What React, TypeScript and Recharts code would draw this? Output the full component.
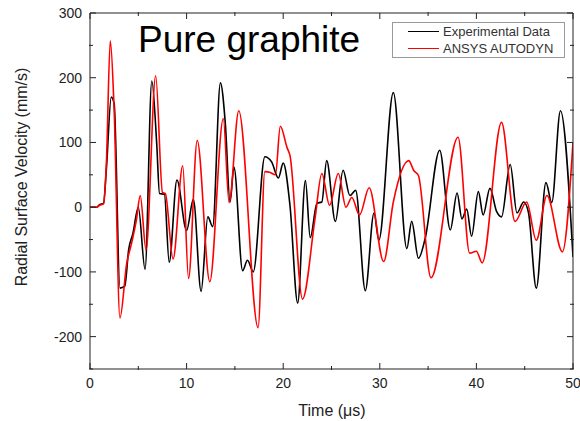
import React from 'react';
import { LineChart, Line, XAxis, YAxis, Legend } from 'recharts';

const FONT = '"Liberation Sans", Arial, Helvetica, sans-serif';

// Experimental data (black)
const expTime = [0, 0.7, 1.0, 1.4, 1.7, 2.2, 2.5, 3.1, 3.6, 4.0, 4.45, 5.0, 5.7, 6.4, 6.9, 7.2, 7.7, 8.2, 9.0, 10.0, 10.7, 11.5, 12.2, 12.7, 13.5, 14.0, 14.5, 14.9, 15.8, 16.3, 16.9, 18.1, 18.8, 19.5, 20.0, 20.7, 21.5, 22.3, 22.8, 23.5, 24.0, 24.5, 25.4, 26.2, 26.9, 27.5, 28.5, 29.4, 29.9, 31.4, 32.8, 33.3, 34.0, 34.7, 36.2, 37.3, 38.0, 38.5, 39.0, 39.5, 40.2, 40.7, 41.4, 42.1, 42.6, 43.5, 44.2, 44.9, 45.4, 46.2, 47.2, 47.8, 48.7, 50.0];
const expVel = [0, 0, 4, 6, 60, 170, 160, -125, -122, -66, -40, 0, -96, 195, 100, 21, 20, -85, 42, -36, 12, -130, -15, -30, 192, 131, 8, 62, -98, -82, -100, 78, 70, 45, 68, 3, -148, 41, -47, 6, 8, 72, -22, 57, 18, 26, -129, -9, -51, 177, -64, -22, -79, -48, 88, -35, 22, -18, -3, -45, 24, -12, 29, -7, -15, 66, -9, 8, -9, -125, 38, 7, 149, -77];

// ANSYS AUTODYN simulation (red)
const simTime = [0, 0.7, 1.0, 1.4, 1.7, 2.1, 2.5, 3.1, 3.8, 4.3, 4.8, 5.2, 5.8, 6.8, 7.5, 7.8, 8.6, 9.6, 10.2, 11.1, 12.4, 13.8, 14.4, 15.4, 17.4, 18.1, 18.6, 19.2, 19.7, 20.4, 20.7, 22.0, 23.3, 24.0, 24.8, 25.7, 26.5, 27.1, 27.9, 28.9, 30.4, 31.4, 33.0, 33.5, 34.0, 35.3, 38.1, 39.3, 40.0, 40.6, 42.6, 44.0, 45.2, 46.2, 47.3, 48.9, 50.0];
const simVel = [0, 0, 3, 5, 70, 257, 150, -171, -87, -56, -20, 18, -66, 203, 23, 21, -80, 64, -110, 103, -115, 137, 7, 149, -186, 55, 54, 50, 125, 92, 80, -142, -17, 52, 3, 52, 0, 15, -12, 30, -84, 8, 72, 57, 49, -109, 108, -71, -68, -86, 131, -22, 8, -51, 18, -69, 100];

const xMajor = [0, 10, 20, 30, 40, 50];
const xMinor = [5, 15, 25, 35, 45];
const yMajor = [-200, -100, 0, 100, 200, 300];
const yMinor = [-250, -150, -50, 50, 150, 250];

const seriesNames = ['Experimental Data', 'ANSYS AUTODYN'];
const seriesColors = ['#000000', '#ff0000'];

const expData = expTime.map((t, i) => ({ t, v: expVel[i] }));
const simData = simTime.map((t, i) => ({ t, v: simVel[i] }));

const axisColor = '#222';
const noLabel = () => <g />;

const renderLegend = (props: any) => {
  const payload = [...(props.payload || [])].sort(
    (a: any, b: any) => seriesNames.indexOf(a.value) - seriesNames.indexOf(b.value)
  );
  return (
    <div
      style={{
        width: 173,
        height: 36,
        boxSizing: 'border-box',
        border: '1px solid #9a9a9a',
        background: '#fff',
        fontFamily: FONT,
        fontSize: 13,
        color: '#333',
        paddingTop: 0,
      }}
    >
      {payload.map((e: any, i: number) => (
        <div key={i} style={{ display: 'flex', alignItems: 'center', height: 17, lineHeight: '17px' }}>
          <span
            style={{
              display: 'inline-block',
              width: 31,
              height: 0,
              borderTop: `1.5px solid ${e.color}`,
              marginLeft: 15,
              marginRight: 4,
            }}
          />
          <span>{e.value}</span>
        </div>
      ))}
    </div>
  );
};

export default function App() {
  return (
    <div style={{ position: 'absolute', left: 0, top: 0, width: 580, height: 421, background: '#fff' }}>
      <LineChart width={580} height={421} margin={{ top: 11, right: 5, bottom: 50, left: 88 }}>
        <XAxis
          xAxisId="b"
          dataKey="t"
          type="number"
          domain={[0, 50]}
          ticks={xMajor}
          interval={0}
          allowDataOverflow
          orientation="bottom"
          height={1}
          tickSize={-6}
          tickMargin={15}
          axisLine={{ stroke: axisColor }}
          tickLine={{ stroke: axisColor }}
          tick={{ fill: '#222', fontSize: 14, fontFamily: FONT }}
        />
        <XAxis
          xAxisId="bm"
          dataKey="t"
          type="number"
          domain={[0, 50]}
          ticks={xMinor}
          interval={0}
          allowDataOverflow
          orientation="bottom"
          height={1}
          tickSize={-4}
          axisLine={false}
          tickLine={{ stroke: axisColor }}
          tick={noLabel}
        />
        <XAxis
          xAxisId="t"
          dataKey="t"
          type="number"
          domain={[0, 50]}
          ticks={xMajor}
          interval={0}
          allowDataOverflow
          orientation="top"
          height={1}
          tickSize={-6}
          axisLine={{ stroke: axisColor }}
          tickLine={{ stroke: axisColor }}
          tick={noLabel}
        />
        <XAxis
          xAxisId="tm"
          dataKey="t"
          type="number"
          domain={[0, 50]}
          ticks={xMinor}
          interval={0}
          allowDataOverflow
          orientation="top"
          height={1}
          tickSize={-4}
          axisLine={false}
          tickLine={{ stroke: axisColor }}
          tick={noLabel}
        />
        <YAxis
          yAxisId="l"
          type="number"
          domain={[-250, 300]}
          ticks={yMajor}
          interval={0}
          allowDataOverflow
          orientation="left"
          width={1}
          tickSize={-6}
          tickMargin={14}
          axisLine={{ stroke: axisColor }}
          tickLine={{ stroke: axisColor }}
          tick={{ fill: '#222', fontSize: 14, fontFamily: FONT }}
        />
        <YAxis
          yAxisId="lm"
          type="number"
          domain={[-250, 300]}
          ticks={yMinor}
          interval={0}
          allowDataOverflow
          orientation="left"
          width={1}
          tickSize={-4}
          axisLine={false}
          tickLine={{ stroke: axisColor }}
          tick={noLabel}
        />
        <YAxis
          yAxisId="r"
          type="number"
          domain={[-250, 300]}
          ticks={yMajor}
          interval={0}
          allowDataOverflow
          orientation="right"
          width={1}
          tickSize={-6}
          axisLine={{ stroke: axisColor }}
          tickLine={{ stroke: axisColor }}
          tick={noLabel}
        />
        <YAxis
          yAxisId="rm"
          type="number"
          domain={[-250, 300]}
          ticks={yMinor}
          interval={0}
          allowDataOverflow
          orientation="right"
          width={1}
          tickSize={-4}
          axisLine={false}
          tickLine={{ stroke: axisColor }}
          tick={noLabel}
        />
        <Line
          xAxisId="b"
          yAxisId="l"
          data={expData}
          dataKey="v"
          name={seriesNames[0]}
          type="monotone"
          stroke={seriesColors[0]}
          strokeWidth={1.6}
          dot={false}
          isAnimationActive={false}
        />
        <Line
          xAxisId="b"
          yAxisId="l"
          data={simData}
          dataKey="v"
          name={seriesNames[1]}
          type="monotone"
          stroke={seriesColors[1]}
          strokeWidth={1.6}
          dot={false}
          isAnimationActive={false}
        />
        <Legend
          layout="horizontal"
          verticalAlign="middle"
          align="center"
          content={renderLegend}
          wrapperStyle={{ position: 'absolute', left: 392, top: 22, width: 173, height: 36 }}
        />
        <text x={138} y={52} fontFamily={FONT} fontSize={37} fill="#000">
          Pure graphite
        </text>
        <text x={332} y={416} textAnchor="middle" fontFamily={FONT} fontSize={16} fill="#222">
          Time (μs)
        </text>
        <text
          transform="translate(26.5,177) rotate(-90)"
          x={0}
          y={0}
          textAnchor="middle"
          fontFamily={FONT}
          fontSize={16}
          fill="#222"
        >
          Radial Surface Velocity (mm/s)
        </text>
      </LineChart>
    </div>
  );
}
